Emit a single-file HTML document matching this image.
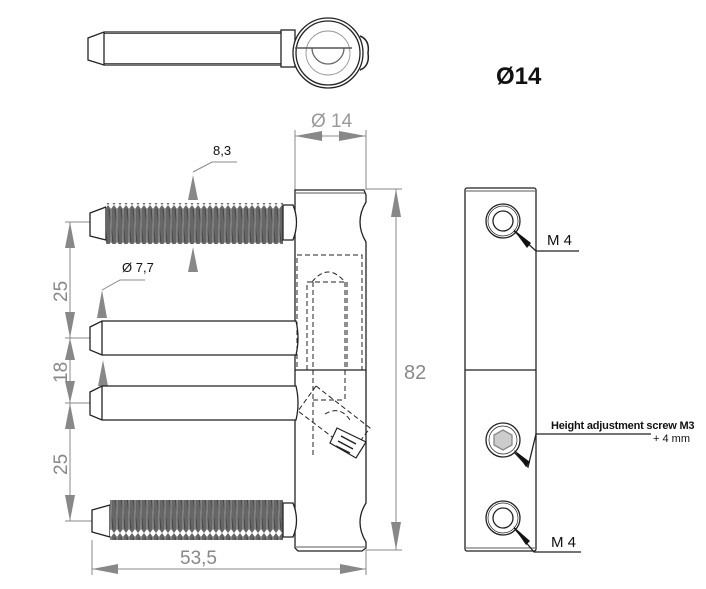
<!DOCTYPE html>
<html><head><meta charset="utf-8"><style>
html,body{margin:0;padding:0;background:#fff;width:706px;height:589px;overflow:hidden}
svg{display:block}
text{font-family:"Liberation Sans",sans-serif}
</style></head><body>
<svg width="706" height="589" viewBox="0 0 706 589" xmlns="http://www.w3.org/2000/svg">
<defs>
<pattern id="thr" width="6" height="41" patternUnits="userSpaceOnUse">
<rect width="6" height="41" fill="#666"/>
<path d="M0 0 L3 4 L6 0 M0 41 L3 37 L6 41" fill="#fff"/>
<line x1="1" y1="4" x2="5" y2="37" stroke="#444" stroke-width="1"/>
<line x1="3" y1="4" x2="3" y2="37" stroke="#999" stroke-width="1"/>
</pattern>
</defs>
<g fill="none" stroke="#222" stroke-width="1.3">
<path d="M88 38 L104 32 L283 32 L283 65 L104 65 L88 60 Z" fill="#fff"/>
<line x1="104" y1="32" x2="104" y2="65"/>
<line x1="104" y1="33.5" x2="283" y2="33.5" stroke-width="0.8"/>
<line x1="104" y1="63.5" x2="283" y2="63.5" stroke-width="0.8"/>
<rect x="281" y="30" width="14" height="37" fill="#fff"/>
<path d="M360 36 Q370 40 368 53 Q370 66 360 70" stroke-width="1.5"/>
<circle cx="328" cy="53" r="35" fill="#fff"/>
<circle cx="328" cy="53" r="32"/>
<circle cx="328" cy="53" r="22" stroke="#999" stroke-width="0.9"/>
<path d="M312 48 A16 16 0 0 0 344 48" stroke="#666"/>
<line x1="295" y1="48" x2="352" y2="48" stroke="#555" stroke-width="1.5"/>
</g>
<text x="496" y="84" font-size="24" font-weight="bold" fill="#111">Ø14</text>

<g stroke="#888" stroke-width="1" fill="#888">
<line x1="295" y1="130" x2="295" y2="190" fill="none"/>
<line x1="366" y1="130" x2="366" y2="190" fill="none"/>
<line x1="295" y1="136" x2="366" y2="136"/>
<path d="M295 136 L322 131 L322 141 Z" stroke="none"/>
<path d="M366 136 L339 131 L339 141 Z" stroke="none"/>
<line x1="366" y1="189" x2="402" y2="189"/>
<line x1="366" y1="550" x2="402" y2="550"/>
<line x1="396" y1="189" x2="396" y2="550"/>
<path d="M396 189 L391 217 L401 217 Z" stroke="none"/>
<path d="M396 550 L391 522 L401 522 Z" stroke="none"/>
<line x1="65" y1="222" x2="96" y2="222"/>
<line x1="65" y1="338" x2="300" y2="338" stroke-dasharray="60 6 3 6"/>
<line x1="65" y1="403" x2="300" y2="403" stroke-dasharray="60 6 3 6"/>
<line x1="65" y1="521" x2="96" y2="521"/>
<line x1="70" y1="222" x2="70" y2="521"/>
<path d="M70 222 L65 248 L75 248 Z M70 338 L65 312 L75 312 Z M70 338 L65 360 L75 360 Z M70 403 L65 381 L75 381 Z M70 403 L65 429 L75 429 Z M70 521 L65 495 L75 495 Z" stroke="none"/>
<line x1="92" y1="540" x2="92" y2="575"/>
<line x1="366" y1="550" x2="366" y2="575"/>
<line x1="92" y1="569" x2="366" y2="569"/>
<path d="M92 569 L118 564 L118 574 Z M366 569 L340 564 L340 574 Z" stroke="none"/>
<path d="M193 175 L188 200 L198 200 Z M193 247 L188 272 L198 272 Z M102 290 L97 318 L107 318 Z M103 360 L98 386 L108 386 Z" stroke="none"/>
</g>
<g stroke="#888" stroke-width="1" fill="none">
<polyline points="237,162 212,162 193,172"/>
<polyline points="145,280 120,280 102,290"/>
</g>
<text x="311" y="127" font-size="19" fill="#999">Ø 14</text>
<text x="404" y="379" font-size="20" fill="#888">82</text>
<text x="180" y="564" font-size="19" fill="#888">53,5</text>
<text transform="translate(67,302) rotate(-90)" font-size="19" fill="#888">25</text>
<text transform="translate(67,383) rotate(-90)" font-size="19" fill="#888">18</text>
<text transform="translate(67,475) rotate(-90)" font-size="19" fill="#888">25</text>
<text x="213" y="155" font-size="13" fill="#111">8,3</text>
<text x="122" y="272" font-size="13" fill="#111">Ø 7,7</text>

<g fill="none" stroke="#222" stroke-width="1.3">
<path d="M298 190 L364 190 L366 195 L366 202 Q354 222 366 242 L366 503 Q354 522 366 542 L366 548 L362 551 L298 551 L295 548 L295 190 Z" fill="#fff"/>
<line x1="296" y1="193" x2="365" y2="193" stroke-width="0.8"/>
<line x1="296" y1="547" x2="365" y2="547" stroke-width="0.8"/>
<line x1="295" y1="370" x2="366" y2="370"/>
<path d="M90 213 L106 207 L106 240 L90 236 Z" fill="#fff"/>
<rect x="106" y="203" width="177" height="41" fill="url(#thr)" stroke="none"/>
<path d="M283 205 L293 205 Q300 222 293 240 L283 240 Z" fill="#fff"/>
<path d="M90 327 L102 321 L296 321 Q300 338 296 355 L102 355 L90 350 Z" fill="#fff"/>
<line x1="102" y1="321" x2="102" y2="355"/>
<path d="M90 392 L102 386 L296 386 Q300 403 296 420 L102 420 L90 415 Z" fill="#fff"/>
<line x1="102" y1="386" x2="102" y2="420"/>
<path d="M92 510 L110 505 L110 537 L92 532 Z" fill="#fff"/>
<rect x="110" y="500" width="173" height="40" fill="url(#thr)" stroke="none"/>
<path d="M283 503 L293 503 Q300 521 293 537 L283 537 Z" fill="#fff"/>
</g>
<g fill="none" stroke="#222" stroke-width="1" stroke-dasharray="5 3">
<rect x="297" y="255" width="65" height="115"/>
<rect x="307" y="282" width="40" height="88"/>
<line x1="313" y1="282" x2="313" y2="455"/>
<line x1="345" y1="282" x2="345" y2="400"/>
<path d="M312 282 Q328 262 345 282"/>
<line x1="313" y1="400" x2="345" y2="400"/>
<path d="M316 386 L370 428 L352 452 L298 411 Z"/>
<path d="M325 414 Q340 405 350 420"/>
</g>
<g fill="#fff" stroke="#222" stroke-width="1.2">
<path d="M337 428 L366 442 L356 458 L330 443 Z"/>
<path d="M341 436 L356 444 M338 441 L353 449 M336 446 L350 453" stroke-width="1.5"/>
</g>

<g fill="none" stroke="#222" stroke-width="1.3">
<rect x="465" y="188" width="71" height="363" rx="2" fill="#fff"/>
<line x1="466" y1="191" x2="535" y2="191" stroke-width="0.8"/>
<line x1="466" y1="548" x2="535" y2="548" stroke-width="0.8"/>
<line x1="465" y1="370" x2="536" y2="370"/>
<circle cx="503" cy="221" r="17"/><circle cx="503" cy="221" r="15" stroke-width="0.7"/><circle cx="503" cy="221" r="10"/>
<circle cx="503" cy="518" r="17"/><circle cx="503" cy="518" r="15" stroke-width="0.7"/><circle cx="503" cy="518" r="10"/>
<circle cx="503" cy="440" r="17"/><circle cx="503" cy="440" r="14" stroke-width="0.7"/>
<path d="M503 430 L512 435 L512 445 L503 450 L494 445 L494 435 Z" fill="#ccc" stroke="#888"/>
<polyline points="514,231 536,251 579,251"/>
<polyline points="514,528 534,552 581,552"/>
<polyline points="514,452 528,467 536,434 651,434"/>
</g>
<g fill="#111">
<path d="M513 229 L531 243 L527 248 Z"/>
<path d="M513 526 L530 541 L526 545 Z"/>
<path d="M514 450 L530 462 L526 467 Z"/>
</g>
<text x="547" y="245" font-size="15" fill="#111">M 4</text>
<text x="551" y="547" font-size="15" fill="#111">M 4</text>
<text x="551" y="429" font-size="11" fill="#111" font-weight="bold" letter-spacing="-0.2">Height adjustment screw M3</text>
<text x="653" y="442" font-size="11" fill="#111">+ 4 mm</text>
</svg>
</body></html>
